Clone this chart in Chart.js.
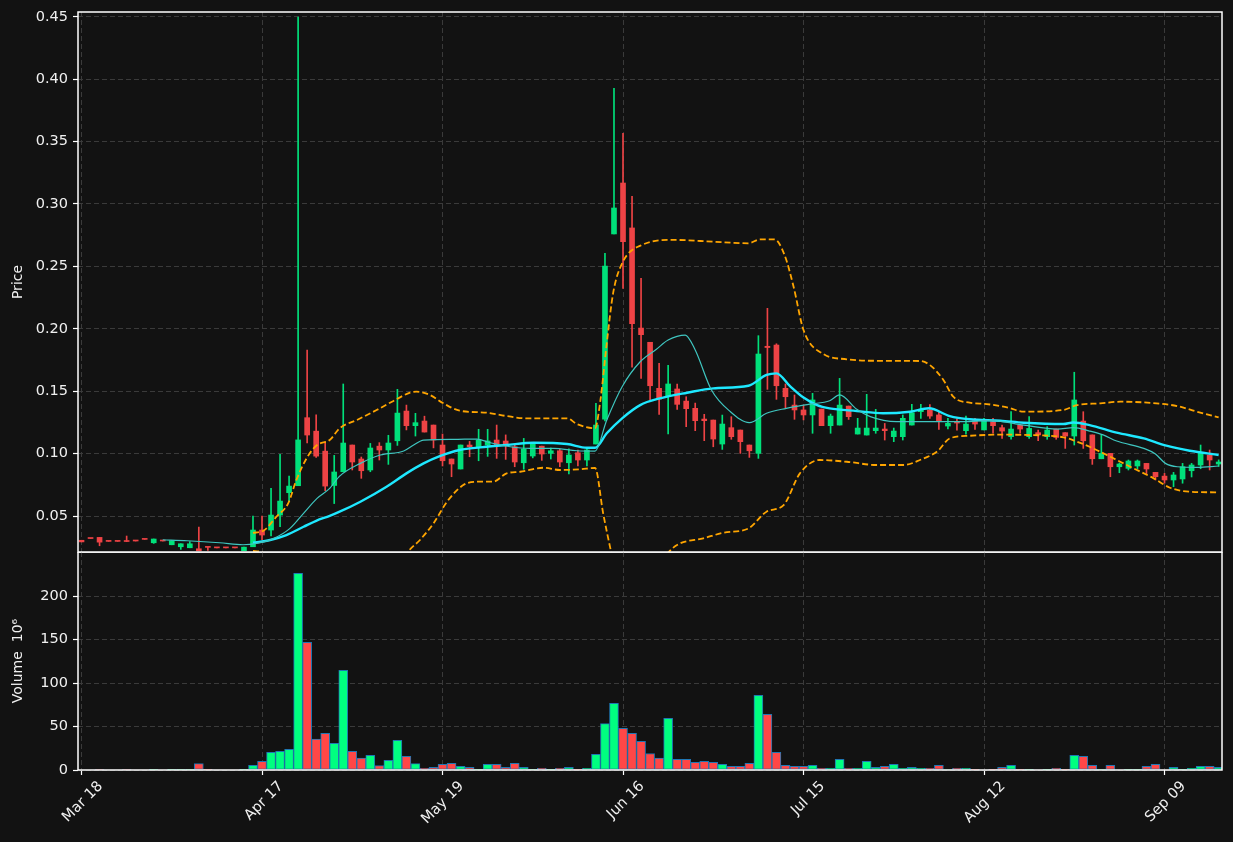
<!DOCTYPE html>
<html>
<head>
<meta charset="utf-8">
<title>Price and volume</title>
<script src="https://cdn.jsdelivr.net/npm/chart.js@4.4.1/dist/chart.umd.min.js"></script>
<style>
    html, body { margin: 0; padding: 0; background: #121212; }
    #wrap { position: relative; width: 1233px; height: 842px; background: #121212; }
    #priceChart { position: absolute; left: 0; top: 0; }
    #volumeChart { position: absolute; left: 0; top: 552px; }
</style>
</head>
<body>
<div id="wrap">
    <canvas id="priceChart" width="1233" height="553"></canvas>
    <canvas id="volumeChart" width="1233" height="290"></canvas>
</div>
<script>
// tick positions (bar index) and their date labels
const tickIdx = [0, 20, 40, 60, 80, 100, 120];
const tickLabels = ['Mar 18', 'Apr 17', 'May 19', 'Jun 16', 'Jul 15', 'Aug 12', 'Sep 09'];
const priceTicks = [0.05, 0.10, 0.15, 0.20, 0.25, 0.30, 0.35, 0.40, 0.45];
const volumeTicks = [0, 50, 100, 150, 200];

// daily candles, one entry per trading day
const opens = [
    .0306, .0320, .0329, .0297, .0297, .0299, .0300, .0313, .0286, .0300,
    .0270, .0254, .0246, .0238, .0251, .0245, .0245, .0245, .0222, .0254,
    .0388, .0388, .0508, .0687, .0743, .1288, .1180, .1020, .0745, .0855,
    .1069, .0957, .0869, .1060, .1029, .1103, .1341, .1224, .1261, .1229,
    .1069, .0957, .0877, .1069, .1053, .1069, .1109, .1101, .1055, .0927,
    .0981, .1060, .1002, .1023, .0927, .1007, .0949, .1077, .1277, .2760,
    .3168, .2808, .2006, .1892, .1523, .1462, .1518, .1421, .1363, .1277,
    .1269, .1077, .1208, .1189, .1069, .1002, .1860, .1870, .1523, .1389,
    .1350, .1310, .1357, .1224, .1229, .1381, .1157, .1149, .1184, .1197,
    .1136, .1136, .1229, .1336, .1350, .1310, .1221, .1250, .1184, .1264,
    .1190, .1256, .1208, .1136, .1229, .1136, .1168, .1136, .1197, .1168,
    .1141, .1261, .1150, .0959, .1002, .0895, .0882, .0901, .0922, .0850,
    .0820, .0789, .0797, .0863, .0909, .0989, .0917
];
const highs = [
    .0306, .0320, .0329, .0297, .0297, .0340, .0300, .0313, .0316, .0300,
    .0302, .0278, .0295, .0412, .0251, .0245, .0245, .0245, .0251, .0500,
    .0500, .0722, .0994, .0820, .4498, .1830, .1310, .1095, .0986, .1558,
    .1069, .0973, .1082, .1088, .1147, .1515, .1389, .1323, .1300, .1229,
    .1157, .0957, .1069, .1098, .1195, .1195, .1229, .1150, .1069, .1122,
    .1089, .1060, .1045, .1037, .1039, .1029, .1045, .1403, .2605, .3927,
    .3566, .3062, .2405, .1892, .1724, .1708, .1558, .1456, .1405, .1315,
    .1269, .1309, .1296, .1189, .1069, .1945, .2164, .1880, .1558, .1470,
    .1389, .1483, .1357, .1317, .1603, .1381, .1283, .1475, .1355, .1242,
    .1205, .1310, .1395, .1395, .1392, .1336, .1282, .1279, .1300, .1282,
    .1282, .1282, .1229, .1336, .1229, .1296, .1189, .1216, .1197, .1168,
    .1652, .1336, .1150, .1150, .1002, .0925, .0949, .0949, .0922, .0850,
    .0842, .0850, .0922, .0922, .1069, .1029, .0950
];
const lows = [
    .0293, .0320, .0262, .0297, .0297, .0295, .0300, .0313, .0281, .0300,
    .0270, .0233, .0246, .0222, .0225, .0245, .0245, .0245, .0222, .0254,
    .0308, .0340, .0414, .0620, .0743, .1085, .0970, .0703, .0600, .0855,
    .0869, .0802, .0855, .0949, .0914, .1066, .1190, .1141, .1173, .1046,
    .0901, .0815, .0877, .0975, .0943, .0978, .0962, .0954, .0895, .0875,
    .0966, .0946, .0957, .0895, .0837, .0902, .0902, .1077, .1262, .2760,
    .2324, .1692, .1603, .1430, .1315, .1157, .1355, .1216, .1184, .1104,
    .1055, .1034, .1115, .1002, .0970, .0962, .1515, .1435, .1363, .1275,
    .1270, .1163, .1224, .1163, .1229, .1274, .1157, .1149, .1163, .1109,
    .1096, .1109, .1229, .1282, .1282, .1195, .1198, .1187, .1155, .1195,
    .1190, .1163, .1122, .1115, .1163, .1122, .1104, .1115, .1115, .1042,
    .1069, .1042, .0914, .0959, .0815, .0847, .0869, .0879, .0840, .0789,
    .0763, .0735, .0763, .0813, .0879, .0869, .0897
];
const closes = [
    .0293, .0320, .0291, .0297, .0297, .0296, .0300, .0313, .0316, .0300,
    .0302, .0278, .0278, .0222, .0249, .0245, .0245, .0245, .0251, .0388,
    .0348, .0508, .0620, .0740, .1110, .1149, .0980, .0740, .0853, .1085,
    .0933, .0863, .1045, .1029, .1085, .1325, .1224, .1248, .1173, .1109,
    .0943, .0917, .1069, .1055, .1109, .1101, .1069, .1077, .0933, .1037,
    .1077, .0997, .1023, .0933, .0989, .0949, .1029, .1229, .2503, .2968,
    .2698, .2041, .1953, .1544, .1437, .1558, .1395, .1360, .1264, .1264,
    .1117, .1237, .1136, .1096, .1023, .1798, .1850, .1544, .1456, .1350,
    .1310, .1430, .1224, .1301, .1389, .1296, .1205, .1205, .1205, .1184,
    .1181, .1283, .1328, .1350, .1301, .1256, .1243, .1245, .1237, .1237,
    .1270, .1224, .1181, .1197, .1197, .1202, .1150, .1189, .1130, .1141,
    .1430, .1103, .0959, .1002, .0895, .0917, .0941, .0941, .0877, .0815,
    .0789, .0829, .0895, .0909, .1007, .0949, .0933
];
// volume in millions
const volumes = [
    0, 0, 0.5, 0, 0, 0.5, 0, 0, 0.2, 0,
    0.2, 0.4, 0.2, 7.3, 0.3, 0, 0, 0, 0.2, 5.4,
    10, 20.3, 21.5, 23.8, 226, 146.8, 35.6, 42.1, 30.7, 114.6,
    21.5, 13.6, 16.9, 5.0, 11.1, 34.1, 15.7, 7.3, 1.9, 3.1,
    6.5, 7.7, 4.2, 3.1, 0.8, 6.5, 6.5, 3.1, 7.7, 3.1,
    0.8, 1.9, 0.8, 1.9, 3.1, 0.8, 1.9, 18, 53.3, 76.6,
    47.9, 42.1, 33, 19, 13.6, 59.4, 12.3, 12.3, 8.8, 10,
    8.8, 6.5, 4.2, 4.2, 7.7, 85.8, 64, 20.3, 5.4, 4.2,
    4.2, 5.4, 1.9, 1.9, 12.3, 1.9, 1.9, 10, 3.1, 4.2,
    6.5, 1.9, 3.1, 1.9, 1.9, 5.4, 0.6, 1.9, 1.9, 0.8,
    0, 0.8, 3.1, 5.4, 0.8, 0.8, 0, 0.8, 1.9, 0.8,
    16.9, 15.7, 5.4, 0.5, 5.4, 0, 0.8, 0.8, 4.2, 6.5,
    0, 3.1, 0.8, 1.9, 4.2, 4.2, 3.1
];

// indicator lines as [bar index, price]
const maFast = [
    [9, .0310], [11.7, .0302], [15.3, .0286], [17.9, .0270], [19.4, .0281], [21.3, .0321],
    [23.1, .0401], [24.6, .0522], [26.1, .0642], [27.5, .0722], [28.6, .0820], [30.9, .0922],
    [33.1, .0989], [35.7, .1021], [36.8, .1069], [37.9, .1109], [41.2, .1114], [43.8, .1117],
    [45.3, .1087], [47.5, .1055], [49.7, .1042], [52.3, .1042], [54.9, .1023], [56.9, .1020],
    [58.2, .1269], [59.9, .1536], [61.9, .1736], [63.7, .1836], [65, .1910], [66.9, .1950],
    [68, .1830], [69.8, .1510], [71.9, .1336], [74, .1248], [75.9, .1323], [78.1, .1363],
    [80.7, .1397], [82.9, .1424], [84, .1470], [85.9, .1355], [87.4, .1296], [90.3, .1256],
    [94, .1256], [97.7, .1256], [100.7, .1266], [104.4, .1229], [108.1, .1197], [109.9, .1208],
    [111.7, .1181], [113.2, .1150], [114.7, .1101], [117.7, .1042], [119, .0997], [120.1, .0922],
    [121.4, .0895], [123.6, .0890], [126, .0901]
];
const maSlow = [
    [19, .0286], [20.9, .0308], [22.7, .0348], [24.6, .0414], [26, .0462], [27.5, .0502],
    [28.6, .0535], [30.9, .0615], [33.8, .0735], [36, .0842], [37.9, .0922], [39.7, .0980],
    [41.9, .1029], [44.2, .1050], [47.1, .1069], [50.1, .1087], [53.8, .1077], [56, .1047],
    [56.9, .1047], [58.2, .1163], [59.9, .1283], [61.9, .1389], [64.1, .1443], [67.1, .1488],
    [70, .1523], [73.9, .1544], [75.9, .1630], [77, .1643], [78.5, .1541], [80, .1449],
    [81.5, .1389], [82.9, .1363], [85.9, .1341], [88.8, .1323], [91.8, .1336], [93.9, .1363],
    [96.2, .1301], [98.4, .1275], [101.8, .1264], [104.4, .1248], [108.8, .1237], [109.9, .1250],
    [111.7, .1229], [114.7, .1168], [117.7, .1122], [120.2, .1064], [122.8, .1023], [126, .0989]
];
const bandUpper = [
    [19, .0366], [20.1, .0380], [21.6, .0495], [22.9, .0602], [23.8, .0788], [25, .0970],
    [26.1, .1069], [27.5, .1109], [28.6, .1203], [30.5, .1269], [32.7, .1349], [34.4, .1416],
    [36.4, .1488], [37.1, .1496], [38.6, .1470], [40.1, .1403], [41.9, .1344], [44.9, .1328],
    [47.1, .1301], [49.3, .1283], [53.8, .1283], [54.9, .1237], [56.9, .1203], [57.5, .1430],
    [58.2, .1884], [58.9, .2284], [59.9, .2525], [62.1, .2672], [65.6, .2712], [70, .2698],
    [73.9, .2685], [75.2, .2717], [76.8, .2717], [77.9, .2591], [78.9, .2337], [80, .1990],
    [82.2, .1798], [84.8, .1756], [87.4, .1744], [92.9, .1742], [94, .1710], [95.5, .1590],
    [96.6, .1456], [98.4, .1408], [100.3, .1397], [102.7, .1368], [104.4, .1336], [108.8, .1350],
    [110.3, .1389], [112.9, .1403], [115.1, .1416], [119.1, .1403], [121.4, .1381], [123.6, .1336],
    [126, .1291]
];
const bandLower = [
    [19, .0220], [20.1, .0205], [22, -.0100], [25, -.0500], [28, -.0700], [31, -.0500],
    [34, -.0100], [36.1, .0205], [37.5, .0308], [39, .0441], [40.5, .0615], [42.3, .0748],
    [43.8, .0775], [45.6, .0775], [47.1, .0842], [48.6, .0855], [51.2, .0887], [53, .0869],
    [55.2, .0874], [56.9, .0885], [57.8, .0522], [58.7, .0206], [60, -.0200], [62, -.0300],
    [63.5, -.0100], [65, .0206], [68.9, .0321], [71.1, .0366], [73.9, .0401], [75.9, .0535],
    [77.8, .0588], [79.6, .0842], [81.8, .0949], [84.8, .0935], [88.1, .0909], [91.1, .0909],
    [92.9, .0949], [94.9, .1023], [96.2, .1122], [98.4, .1143], [101.8, .1152], [104.4, .1150],
    [108.8, .1131], [110.3, .1096], [111.7, .1055], [114, .0975], [116.2, .0895], [118.8, .0802],
    [120.6, .0727], [122.8, .0695], [126, .0690]
];

const GRID = '#3a3a3a';
const TEXT = '#f0f0f0';
const FONT = 'DejaVu Sans';

const candleColors = opens.map((o, i) => closes[i] > o ? '#00e07a' : '#ee4345');
const volumeColors = opens.map((o, i) => closes[i] > o ? '#00ff80' : '#ff4747');

const X_MIN = -0.39;
const X_MAX = 126.37;

// white box round each panel
const framePlugin = {
    id: 'frame',
    afterDraw(chart) {
        const { ctx, chartArea } = chart;
        ctx.save();
        ctx.strokeStyle = '#ffffff';
        ctx.lineWidth = 1.5;
        ctx.strokeRect(chartArea.left, chartArea.top, chartArea.right - chartArea.left, chartArea.bottom - chartArea.top);
        ctx.restore();
    }
};

function toPoints(list) {
    return list.map(p => ({ x: p[0], y: p[1] }));
}

function lineSet(label, points, color, width, dash) {
    return {
        type: 'line',
        label: label,
        data: toPoints(points),
        borderColor: color,
        borderWidth: width,
        borderDash: dash || [],
        pointRadius: 0,
        cubicInterpolationMode: 'monotone',
        fill: false,
        order: 1
    };
}

// no extra room for overhanging labels, the panels sit at fixed spots
function noPadding(s) {
    s.paddingTop = 0;
    s.paddingBottom = 0;
    s.paddingLeft = 0;
    s.paddingRight = 0;
}

function xScale(showLabels) {
    return {
        type: 'linear',
        min: X_MIN,
        max: X_MAX,
        offset: false,
        afterBuildTicks: s => { s.ticks = tickIdx.map(v => ({ value: v })); },
        afterFit: s => { s.height = showLabels ? 72 : 0; noPadding(s); },
        grid: {
            color: GRID,
            lineWidth: 1,
            offset: false,
            drawTicks: showLabels,
            tickLength: 5,
            tickColor: '#ffffff',
            tickWidth: 1.2,
            tickBorderDash: []
        },
        border: { display: false, dash: [5, 3] },
        ticks: {
            display: showLabels,
            autoSkip: false,
            minRotation: 45,
            maxRotation: 45,
            padding: 3,
            labelOffset: 19,
            color: TEXT,
            font: { family: FONT, size: 14.5 },
            callback: (v, i) => tickLabels[i]
        }
    };
}

function yScale(min, max, ticks, title, fmt) {
    return {
        type: 'linear',
        position: 'left',
        min: min,
        max: max,
        afterBuildTicks: s => { s.ticks = ticks.map(v => ({ value: v })); },
        afterFit: s => { s.width = 78; noPadding(s); },
        grid: {
            color: GRID,
            lineWidth: 1,
            drawTicks: true,
            tickLength: 5,
            tickColor: '#ffffff',
            tickWidth: 1.2,
            tickBorderDash: []
        },
        border: { display: false, dash: [5, 3] },
        ticks: {
            padding: 5,
            color: TEXT,
            font: { family: FONT, size: 14.5 },
            callback: fmt
        },
        title: {
            display: true,
            text: title,
            color: TEXT,
            font: { family: FONT, size: 14 },
            padding: { top: 10, bottom: 0 }
        }
    };
}

function loadPriceChart() {
    const ctx = document.getElementById('priceChart').getContext('2d');
    new Chart(ctx, {
        type: 'bar',
        data: {
            datasets: [
                lineSet('MA fast', maFast, '#3fc6c0', 1.2),
                lineSet('MA slow', maSlow, '#1ee8ff', 2.4),
                lineSet('Upper band', bandUpper, '#ffa500', 1.8, [6, 3]),
                lineSet('Lower band', bandLower, '#ffa500', 1.8, [6, 3]),
                {
                    label: 'Wick',
                    data: opens.map((o, i) => ({ x: i, y: [lows[i], highs[i]] })),
                    backgroundColor: candleColors,
                    barThickness: 1,
                    grouped: false,
                    order: 4
                },
                {
                    label: 'Body',
                    data: opens.map((o, i) => ({ x: i, y: [o, closes[i]] })),
                    backgroundColor: candleColors,
                    barThickness: 5,
                    minBarLength: 1,
                    grouped: false,
                    order: 3
                }
            ]
        },
        options: {
            responsive: false,
            animation: false,
            events: [],
            layout: { padding: { top: 12, right: 11, bottom: 1, left: 0 } },
            plugins: { legend: { display: false }, tooltip: { enabled: false } },
            scales: {
                x: xScale(false),
                y: yScale(0.0212, 0.4538, priceTicks, 'Price', v => v.toFixed(2))
            }
        },
        plugins: [framePlugin]
    });
}

function loadVolumeChart() {
    const ctx = document.getElementById('volumeChart').getContext('2d');
    new Chart(ctx, {
        type: 'bar',
        data: {
            datasets: [{
                label: 'Volume',
                data: volumes.map((v, i) => ({ x: i, y: v })),
                backgroundColor: volumeColors,
                borderColor: '#1f77b4',
                borderWidth: 1,
                borderSkipped: false,
                barThickness: 9,
                grouped: false
            }]
        },
        options: {
            responsive: false,
            animation: false,
            events: [],
            layout: { padding: { top: 0, right: 11, bottom: 0, left: 0 } },
            plugins: { legend: { display: false }, tooltip: { enabled: false } },
            scales: {
                x: xScale(true),
                y: yScale(0, 250.6, volumeTicks, 'Volume  10\u2076', v => String(v))
            }
        },
        plugins: [framePlugin]
    });
}

loadPriceChart();
loadVolumeChart();
</script>
</body>
</html>
